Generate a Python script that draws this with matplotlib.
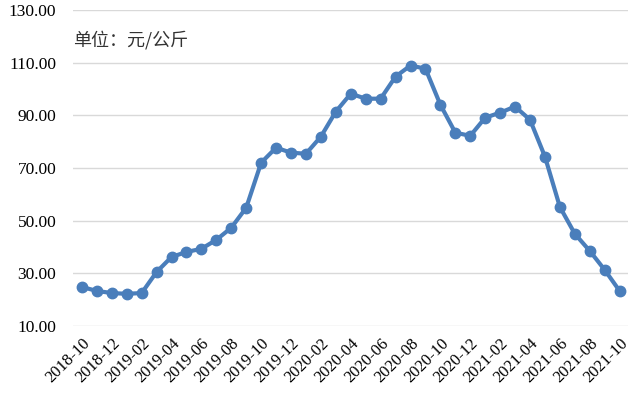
import matplotlib.pyplot as plt

# monthly price, 2018-10 .. 2021-10
months = ['2018-10', '2018-11', '2018-12', '2019-01', '2019-02', '2019-03', '2019-04',
          '2019-05', '2019-06', '2019-07', '2019-08', '2019-09', '2019-10', '2019-11',
          '2019-12', '2020-01', '2020-02', '2020-03', '2020-04', '2020-05', '2020-06',
          '2020-07', '2020-08', '2020-09', '2020-10', '2020-11', '2020-12', '2021-01',
          '2021-02', '2021-03', '2021-04', '2021-05', '2021-06', '2021-07', '2021-08',
          '2021-09', '2021-10']
prices = [24.8, 23.3, 22.5, 22.2, 22.5, 30.5, 36.2, 38.1, 39.3, 42.7, 47.3, 54.9,
          72.0, 77.7, 75.8, 75.4, 81.9, 91.4, 98.2, 96.3, 96.3, 104.7, 108.9, 107.7,
          94.0, 83.4, 82.2, 89.1, 91.0, 93.3, 88.3, 74.3, 55.2, 45.0, 38.5, 31.3, 23.3]
yticks = [10, 30, 50, 70, 90, 110, 130]

fig = plt.figure(figsize=(6.4, 3.98), dpi=100)
ax = fig.add_axes([0.114, 0.181, 0.867, 0.794])

x = list(range(len(months)))
ax.plot(x, prices, color='#4a7ebb', linewidth=3, marker='o', markersize=7.5, zorder=3)

ax.set_ylim(10, 130)
ax.set_xlim(-0.6, len(months) - 1 + 0.55)
ax.set_yticks(yticks)
ax.set_yticklabels([f'{v:.2f}' for v in yticks], fontfamily='Liberation Serif', fontsize=12.5)
ax.set_xticks(x[::2])
ax.set_xticklabels(months[::2], rotation=45, ha='right', rotation_mode='anchor',
                   fontfamily='Liberation Serif', fontsize=12)
ax.tick_params(axis='y', length=0, pad=12)
ax.tick_params(axis='x', length=0, pad=7)
ax.grid(axis='y', color='#d9d9d9', linewidth=1)
ax.set_axisbelow(True)
for s in ax.spines.values():
    s.set_visible(False)

ax.text(0.0, 0.905, '单位：元/公斤', transform=ax.transAxes, fontsize=13,
        fontfamily=['Noto Sans CJK SC', 'DejaVu Sans'], color='#333333', va='center')

fig.savefig('out.png', dpi=100)
